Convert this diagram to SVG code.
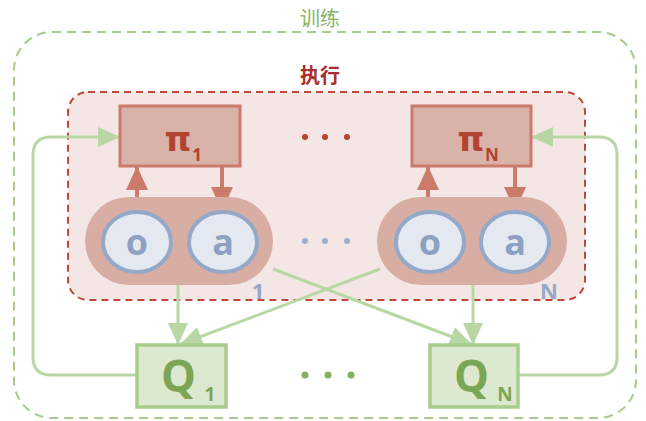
<svg xmlns="http://www.w3.org/2000/svg" width="646" height="421" viewBox="0 0 646 421">
<defs>
<marker id="ga" viewBox="0 0 22 20" refX="21" refY="10" markerWidth="22" markerHeight="20" markerUnits="userSpaceOnUse" orient="auto" overflow="visible"><path d="M0,0 L22,10 L0,20 z" fill="#b9d7a4"/></marker>
<marker id="ra" viewBox="0 0 24 22" refX="23" refY="11" markerWidth="24" markerHeight="22" markerUnits="userSpaceOnUse" orient="auto" overflow="visible"><path d="M0,0 L24,11 L0,22 z" fill="#cc7a69"/></marker>
<style>
.cjk{font-family:"Noto Sans CJK SC",sans-serif;font-size:20px;text-anchor:middle}
.pi{fill:#d9b3aa;stroke:#cc7a69;stroke-width:3}
.pill{fill:#d8aea4}
.obs{fill:#e4e9f1;stroke:#94a8c8;stroke-width:4}
.ot{font-family:"Open Sans",sans-serif;font-weight:bold;font-size:36px;fill:#8ea1c2;text-anchor:middle}
.q{fill:#dce9d0;stroke:#a9cc8d;stroke-width:3.5}
.qt{font-family:"Open Sans",sans-serif;font-weight:bold;font-size:44px;fill:#7ca653}
.qs{font-family:"Open Sans",sans-serif;font-weight:bold;font-size:19px;fill:#7ca653}
.pt{font-family:"DejaVu Sans",sans-serif;font-weight:bold;font-size:34px;fill:#b3432f}
.ps{font-family:"Open Sans",sans-serif;font-weight:bold;font-size:17px;fill:#b3432f}
.lbl{font-family:"Open Sans",sans-serif;font-weight:bold;font-size:22px;fill:#94a8c8;text-anchor:middle}
.gl{fill:none;stroke:#b9d7a4;stroke-width:3}
.rl{fill:none;stroke:#cc7a69;stroke-width:4}
</style>
</defs>
<rect width="646" height="421" fill="#ffffff"/>
<g id="train">
<rect x="14" y="32" width="622" height="386" rx="38" fill="none" stroke="#a5cc8a" stroke-width="2" stroke-dasharray="9,6"/>
<text class="cjk" x="320" y="26" fill="#8ab565">训练</text>
</g>
<g id="exec">
<rect x="68" y="92" width="517" height="208" rx="20" fill="#f4e6e4" stroke="#c0483a" stroke-width="2" stroke-dasharray="7,5"/>
<text class="cjk" x="320" y="83" fill="#a8302a" font-weight="bold">执行</text>
</g>
<g id="connectors">
<path class="rl" d="M137,197 V167" marker-end="url(#ra)"/>
<path class="rl" d="M222,166 V210" marker-end="url(#ra)"/>
<path class="rl" d="M428,197 V167" marker-end="url(#ra)"/>
<path class="rl" d="M515,166 V210" marker-end="url(#ra)"/>
<path class="gl" d="M178,285 V344" marker-end="url(#ga)"/>
<path class="gl" d="M473,285 V344" marker-end="url(#ga)"/>
<path class="gl" d="M273,269 L471,344" marker-end="url(#ga)"/>
<path class="gl" d="M380,269 L181,344" marker-end="url(#ga)"/>
<path class="gl" d="M137,375 H51 Q33,375 33,357 V155 Q33,137 51,137 H119" marker-end="url(#ga)"/>
<path class="gl" d="M518,375 H599 Q617,375 617,357 V155 Q617,137 599,137 H532" marker-end="url(#ga)"/>
</g>
<g id="pi1">
<rect class="pi" x="120" y="106" width="120" height="60"/>
<text class="pt" x="178" y="151" text-anchor="middle">π</text>
<text class="ps" x="197" y="161" text-anchor="middle">1</text>
</g>
<g id="piN">
<rect class="pi" x="412" y="106" width="119" height="60"/>
<text class="pt" x="471" y="151" text-anchor="middle">π</text>
<text class="ps" x="492" y="161" text-anchor="middle">N</text>
</g>
<g id="dots-red" fill="#b8432f">
<circle cx="305" cy="137" r="3"/><circle cx="325" cy="137" r="3"/><circle cx="347" cy="137" r="3"/>
</g>
<g id="agent1">
<rect class="pill" x="85" y="197" width="188" height="88" rx="44"/>
<ellipse class="obs" cx="137" cy="242" rx="34" ry="30"/>
<text class="ot" x="137" y="255">o</text>
<ellipse class="obs" cx="223" cy="242" rx="34" ry="30"/>
<text class="ot" x="223" y="255">a</text>
<text class="lbl" x="258" y="299">1</text>
</g>
<g id="agentN">
<rect class="pill" x="377" y="197" width="190" height="88" rx="44"/>
<ellipse class="obs" cx="430" cy="242" rx="34" ry="30"/>
<text class="ot" x="430" y="255">o</text>
<ellipse class="obs" cx="515" cy="242" rx="34" ry="30"/>
<text class="ot" x="515" y="255">a</text>
<text class="lbl" x="549" y="299">N</text>
</g>
<g id="dots-blue" fill="#9fb0cd">
<circle cx="305" cy="241" r="3"/><circle cx="325" cy="241" r="3"/><circle cx="347" cy="241" r="3"/>
</g>
<g id="Q1">
<rect class="q" x="137" y="345" width="89" height="62"/>
<text class="qt" x="161" y="392">Q</text>
<text class="qs" x="210" y="401" text-anchor="middle">1</text>
</g>
<g id="QN">
<rect class="q" x="430" y="345" width="88" height="62"/>
<text class="qt" x="454" y="392">Q</text>
<text class="qs" x="505" y="401" text-anchor="middle">N</text>
</g>
<g id="dots-green" fill="#86b05e">
<circle cx="305" cy="375" r="3.5"/><circle cx="328" cy="375" r="3.5"/><circle cx="351" cy="375" r="3.5"/>
</g>
</svg>
